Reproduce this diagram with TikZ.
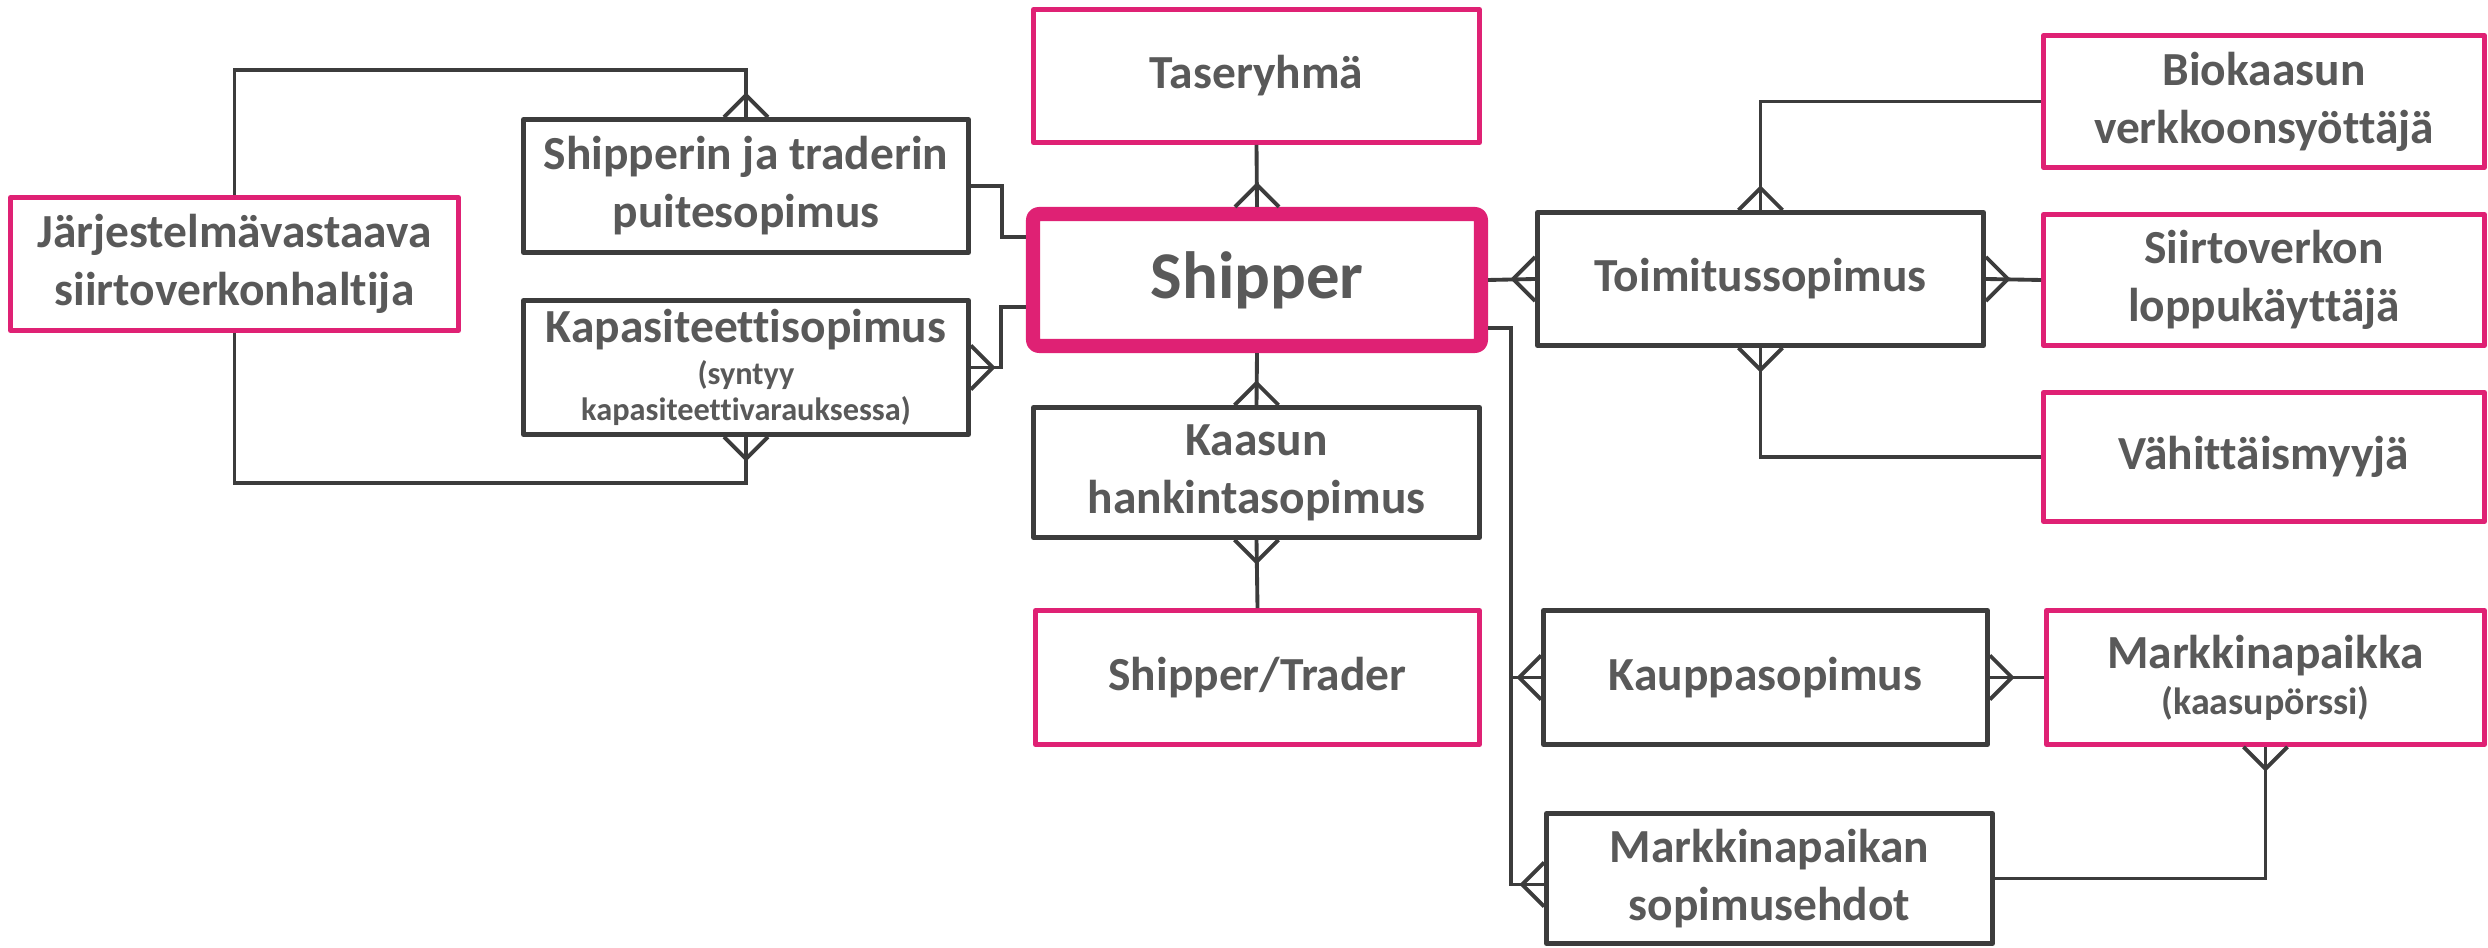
\documentclass[tikz,border=0pt]{standalone}
\usepackage{fontspec}
\setmainfont{Carlito}[Ligatures=NoCommon]
\definecolor{pinkline}{HTML}{DF2174}
\definecolor{darkline}{HTML}{3C3C3C}
\definecolor{txtgray}{HTML}{595959}
\newcommand{\smalltxt}{\fontsize{9.2}{11}\selectfont}
\newcommand{\midtxt}{\fontsize{10.8}{13}\selectfont}

\tikzset{
  box/.style={rectangle, align=center, text=txtgray, fill=white, inner sep=0pt,
    font=\fontsize{13.5}{16.5}\selectfont\bfseries, line join=round,
    minimum width=4.46cm, minimum height=1.33cm},
  pinkbox/.style={box, draw=pinkline, line width=1.4pt},
  darkbox/.style={box, draw=darkline, line width=1.4pt},
  conn/.style={draw=darkline, line width=1.1pt},
  crow/.pic={\draw[conn] (0,0.22) -- (-0.22,0) -- (0,-0.22);}
}

\begin{document}
\begin{tikzpicture}
  \useasboundingbox (0,0) rectangle (24.88,-9.48);

  \node[pinkbox, minimum width=4.48cm] (jv) at (2.345,-2.64) {Järjestelmävastaava\\siirtoverkonhaltija};
  \node[darkbox, minimum width=4.45cm] (sp) at (7.46,-1.86) {Shipperin ja traderin\\puitesopimus};
  \node[darkbox, minimum width=4.45cm, minimum height=1.34cm] (kap) at (7.46,-3.675)
    {Kapasiteettisopimus\\[-4.6pt]\smalltxt (syntyy\\[-6.3pt]\smalltxt kapasiteettivarauksessa)};
  \node[pinkbox] (ts) at (12.565,-0.76) {Taseryhmä};
  \node[box, draw=pinkline, line width=4pt, rounded corners=0.6mm, minimum width=4.48cm, minimum height=1.32cm,
    font=\fontsize{19}{23}\selectfont\bfseries] (sh) at (12.57,-2.80) {Shipper};
  \node[darkbox, minimum height=1.30cm] (kh) at (12.565,-4.725) {Kaasun\\hankintasopimus};
  \node[pinkbox, minimum width=4.44cm, minimum height=1.34cm] (st) at (12.575,-6.775) {Shipper/Trader};
  \node[darkbox] (tm) at (17.605,-2.79) {Toimitussopimus};
  \node[pinkbox, minimum width=4.41cm, minimum height=1.32cm] (bio) at (22.64,-1.015) {Biokaasun\\verkkoonsyöttäjä};
  \node[pinkbox, minimum width=4.41cm, minimum height=1.31cm] (sv) at (22.64,-2.80) {Siirtoverkon\\loppukäyttäjä};
  \node[pinkbox, minimum width=4.41cm, minimum height=1.29cm] (vm) at (22.64,-4.57) {Vähittäismyyjä};
  \node[darkbox, minimum width=4.44cm, minimum height=1.34cm] (kp) at (17.655,-6.775) {Kauppasopimus};
  \node[pinkbox, minimum width=4.38cm, minimum height=1.34cm] (mp) at (22.655,-6.775)
    {Markkinapaikka\\[-3.4pt]\midtxt (kaasupörssi)};
  \node[darkbox, minimum height=1.30cm] (mpe) at (17.695,-8.785) {Markkinapaikan\\sopimusehdot};

  \draw[conn] (jv.north) -- ++(0,1.25) -| (sp.north);
  \draw[conn] (jv.south) -- ++(0,-1.5) -| (kap.south);
  \draw[conn] (sp.east) -- ++(0.31,0) |- ([yshift=0.43cm]sh.west);
  \draw[conn] (kap.east) -- ++(0.30,0) |- ([yshift=-0.27cm]sh.west);
  \draw[conn] (ts.south) -- (sh.north);
  \draw[conn] (sh.south) -- (kh.north);
  \draw[conn] (kh.south) -- (st.north);
  \draw[conn] (sh.east) -- (tm.west);
  \draw[conn] ([yshift=-0.48cm]sh.east) -- ++(0.23,0) coordinate (bus) |- ([yshift=-0.06cm]mpe.west);
  \draw[conn] (bus |- kp.west) -- (kp.west);
  \draw[conn] (tm.north) |- (bio.west);
  \draw[conn] (tm.east) -- (sv.west);
  \draw[conn] (tm.south) |- (vm.west);
  \draw[conn] (kp.east) -- (mp.west);
  \draw[conn] (mpe.east) -| (mp.south);

  \pic[rotate=-90] at (sp.north) {crow};
  \pic[rotate=90] at (kap.south) {crow};
  \pic[rotate=180] at (kap.east) {crow};
  \pic[rotate=-90] at (sh.north) {crow};
  \pic[rotate=-90] at (kh.north) {crow};
  \pic[rotate=90] at (kh.south) {crow};
  \pic at (tm.west) {crow};
  \pic at (kp.west) {crow};
  \pic at ([yshift=-0.06cm]mpe.west) {crow};
  \pic[rotate=-90] at (tm.north) {crow};
  \pic[rotate=180] at (tm.east) {crow};
  \pic[rotate=90] at (tm.south) {crow};
  \pic[rotate=180] at (kp.east) {crow};
  \pic[rotate=90] at (mp.south) {crow};
\end{tikzpicture}
\end{document}
